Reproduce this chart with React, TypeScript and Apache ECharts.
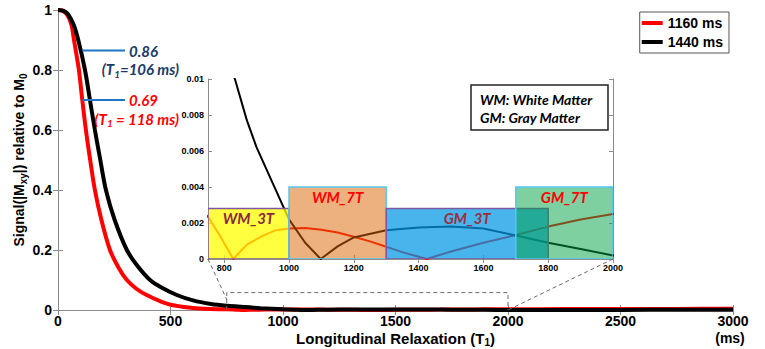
import { useEffect, useRef } from 'react';
import * as echarts from 'echarts';

// ---- data ----
const redT1 = [0, 20, 40, 60, 71, 80, 93, 108, 124, 143, 164, 193, 231, 270, 306, 350, 394, 480, 560, 650, 750, 790, 828, 870, 920, 960, 1000, 1050, 1100, 1150, 1200, 1250, 1300, 1350, 1425, 1500, 1600, 1700, 1800, 1900, 2000, 2250, 2500, 2750, 3000];
const redSignal = [1, 0.998, 0.985, 0.95, 0.9, 0.86, 0.8, 0.7, 0.6, 0.5, 0.4, 0.3, 0.2, 0.14, 0.1, 0.07, 0.05, 0.022, 0.01, 0.004, 0.00235, 0.0012, 0, 0.0008, 0.0013, 0.0016, 0.0017, 0.00172, 0.00163, 0.00147, 0.00124, 0.00098, 0.00068, 0.00038, 0, 0.00042, 0.0009, 0.00133, 0.0018, 0.0022, 0.0025, 0.003, 0.0034, 0.0037, 0.004];
const blackT1 = [0, 25, 45, 70, 90, 120, 142, 164, 188, 213, 252, 306, 350, 409, 460, 528, 600, 680, 750, 800, 833, 870, 900, 950, 1000, 1050, 1098, 1150, 1200, 1300, 1400, 1500, 1600, 1700, 1800, 1900, 2000, 2250, 2500, 2750, 3000];
const blackSignal = [1, 0.997, 0.985, 0.95, 0.9, 0.8, 0.7, 0.6, 0.5, 0.4, 0.3, 0.2, 0.15, 0.1, 0.075, 0.05, 0.032, 0.02, 0.014, 0.0115, 0.01, 0.0077, 0.0062, 0.0042, 0.0022, 0.0009, 0, 0.0007, 0.0012, 0.0016, 0.00175, 0.0018, 0.0017, 0.0013, 0.0009, 0.00055, 0.0002, 0.0001, 0.0004, 0.0008, 0.0012];

const seriesNames = ['1160 ms', '1440 ms'];
const insetXTicks = [800, 1000, 1200, 1400, 1600, 1800, 2000];

const regionNames = ['WM_3T', 'WM_7T', 'GM_3T', 'GM_7T'];
const regionStart = [750, 1000, 1300, 1700];
const regionEnd = [1000, 1300, 1800, 2000];
const regionTop = [0.0028, 0.004, 0.0028, 0.004];

const annoValues = ['0.86', '0.69'];
const annoT1 = ['106', '118'];
const annoSep = ['=', ' = '];
const annoY = [0.865, 0.7];

// ---- styles ----
const regionFill = ['rgba(255,255,0,0.75)', 'rgba(220,97,0,0.5)', 'rgba(0,153,228,0.72)', 'rgba(0,161,65,0.5)'];
const regionStroke = ['#7e57a0', '#55c8f2', '#7e57a0', '#55c8f2'];
const regionText = ['#8a2a3a', '#ff0000', '#9a3040', '#ff0000'];
const annoColor = ['#203864', '#ff0000'];
const AX = '#8c8c8c';
const FONT = '"Liberation Sans", Arial, sans-serif';
const IFONT = 'Lato, "Noto Sans", sans-serif';

const zip = (a: number[], b: number[]) => a.map((v, i) => [v, b[i]]);
const plain = (v: number) => String(v);

export default function App() {
  const ref = useRef<HTMLDivElement>(null);
  useEffect(() => {
    const chart = echarts.init(ref.current!, undefined, { renderer: 'svg' });
    const sub = { color: '#000', fontSize: 10, padding: [6, 0, 0, 0], verticalAlign: 'top', lineHeight: 10, fontWeight: 'bold', fontFamily: FONT };
    const nrm = { color: '#000', fontSize: 15, lineHeight: 16, verticalAlign: 'top', fontWeight: 'bold', fontFamily: FONT };
    const tickCommon = { inside: true, length: 5, lineStyle: { color: AX } };
    const option: any = {
      animation: false,
      grid: [
        { left: 58, top: 10, width: 675, height: 300, outerBoundsMode: 'none', containLabel: false },
        { left: 208, top: 79, width: 405, height: 180, show: true, backgroundColor: '#fff', borderWidth: 0, outerBoundsMode: 'none', containLabel: false },
      ],
      legend: {
        right: 36, top: 12, orient: 'vertical', itemWidth: 21, itemHeight: 4, itemGap: 5,
        borderColor: '#555', borderWidth: 1, backgroundColor: '#fff', padding: [4, 6, 4, 2],
        textStyle: { fontWeight: 'bold', fontSize: 14, fontFamily: FONT, color: '#000' },
        data: seriesNames.map((n) => ({ name: n, icon: 'rect' })),
      },
      xAxis: [
        {
          gridIndex: 0, type: 'value', min: 0, max: 3000, interval: 500,
          axisLine: { lineStyle: { color: AX } }, axisTick: tickCommon, splitLine: { show: false },
          axisLabel: { color: '#000', fontSize: 14, fontWeight: 'bold', fontFamily: FONT, margin: 4, formatter: plain },
          name: '{n|Longitudinal Relaxation (T}{s|1}{n|)}', nameLocation: 'middle', nameGap: 21, nameMoveOverlap: false,
          nameTextStyle: { rich: { n: nrm, s: sub } },
        },
        {
          gridIndex: 0, type: 'value', min: 0, max: 3000, interval: 500, position: 'top',
          axisLine: { lineStyle: { color: AX } }, axisTick: tickCommon, axisLabel: { show: false }, splitLine: { show: false },
        },
        {
          gridIndex: 1, type: 'value', min: 750, max: 2000,
          axisLine: { lineStyle: { color: AX } },
          axisTick: { ...tickCommon, length: 4, customValues: insetXTicks }, splitLine: { show: false },
          axisLabel: { customValues: insetXTicks, color: '#000', fontSize: 9, fontWeight: 'bold', fontFamily: FONT, margin: 4, formatter: plain },
        },
        {
          gridIndex: 1, type: 'value', min: 750, max: 2000, position: 'top',
          axisLine: { lineStyle: { color: AX } },
          axisTick: { ...tickCommon, length: 4, customValues: insetXTicks }, axisLabel: { show: false }, splitLine: { show: false },
        },
      ],
      yAxis: [
        {
          gridIndex: 0, type: 'value', min: 0, max: 1, interval: 0.2,
          axisLine: { show: true, lineStyle: { color: AX } }, axisTick: { ...tickCommon, show: true }, splitLine: { show: false },
          axisLabel: { color: '#000', fontSize: 14, fontWeight: 'bold', fontFamily: FONT, margin: 6 },
          name: '{n|Signal(|M}{s|xy}{n||) relative to M}{s|0}', nameLocation: 'middle', nameGap: 31, nameMoveOverlap: false,
          nameTextStyle: { rich: { n: { ...nrm, fontSize: 14, lineHeight: 15 }, s: sub } },
        },
        {
          gridIndex: 0, type: 'value', min: 0, max: 1, interval: 0.2, position: 'right',
          axisLine: { show: true, lineStyle: { color: AX } }, axisTick: { ...tickCommon, show: true }, axisLabel: { show: false }, splitLine: { show: false },
        },
        {
          gridIndex: 1, type: 'value', min: 0, max: 0.01, interval: 0.002,
          axisLine: { show: true, lineStyle: { color: AX } }, axisTick: { ...tickCommon, show: true, length: 4 }, splitLine: { show: false },
          axisLabel: { color: '#000', fontSize: 9, fontWeight: 'bold', fontFamily: FONT, margin: 4 },
        },
        {
          gridIndex: 1, type: 'value', min: 0, max: 0.01, interval: 0.002, position: 'right',
          axisLine: { show: true, lineStyle: { color: AX } }, axisTick: { ...tickCommon, show: true, length: 4 }, axisLabel: { show: false }, splitLine: { show: false },
        },
      ],
      series: [
        { name: seriesNames[0], type: 'line', xAxisIndex: 0, yAxisIndex: 0, data: zip(redT1, redSignal), showSymbol: false, smooth: 0.3, lineStyle: { color: '#ff0000', width: 4 }, itemStyle: { color: '#ff0000' }, z: 3 },
        { name: seriesNames[1], type: 'line', xAxisIndex: 0, yAxisIndex: 0, data: zip(blackT1, blackSignal), showSymbol: false, smooth: 0.3, lineStyle: { color: '#000', width: 4 }, itemStyle: { color: '#000' }, z: 3 },
        { name: seriesNames[0], type: 'line', xAxisIndex: 2, yAxisIndex: 2, data: zip(redT1, redSignal), showSymbol: false, clip: true, lineStyle: { color: '#ff0000', width: 2 }, itemStyle: { color: '#ff0000' }, z: 4 },
        { name: seriesNames[1], type: 'line', xAxisIndex: 2, yAxisIndex: 2, data: zip(blackT1, blackSignal), showSymbol: false, clip: true, lineStyle: { color: '#000', width: 2 }, itemStyle: { color: '#000' }, z: 4 },
        {
          type: 'custom', xAxisIndex: 2, yAxisIndex: 2, z: 6, clip: true,
          data: regionNames.map((_, i) => [regionStart[i], regionEnd[i], regionTop[i], i]),
          encode: { x: [0, 1], y: 2 },
          renderItem: (_p: any, api: any) => {
            const i = api.value(3);
            const a = api.coord([api.value(0), api.value(2)]);
            const b = api.coord([api.value(1), 0]);
            return {
              type: 'group',
              children: [
                { type: 'rect', shape: { x: a[0], y: a[1], width: b[0] - a[0], height: b[1] - a[1] }, style: { fill: regionFill[i], stroke: regionStroke[i], lineWidth: 1.5 } },
                { type: 'text', style: { text: regionNames[i], x: (a[0] + b[0]) / 2, y: a[1] + 2, align: 'center', verticalAlign: 'top', fill: regionText[i], font: `italic bold 15px ${IFONT}` } },
              ],
            };
          },
        },
      ],
    };
    chart.setOption(option);

    const p0 = (v: number[]) => chart.convertToPixel({ gridIndex: 0 }, v) as number[];
    const p1 = (v: number[]) => chart.convertToPixel({ gridIndex: 1 }, v) as number[];
    const dash = { stroke: '#6a6a6a', lineWidth: 1, lineDash: [4, 3], fill: 'none' };
    const zx0 = 750, zx1 = 2000, zTop = 0.058;
    const graphics: any[] = [
      { type: 'polyline', z: 10, shape: { points: [p0([zx0, 0]), p0([zx0, zTop]), p0([zx1, zTop]), p0([zx1, 0])] }, style: dash },
      { type: 'line', z: 10, shape: { x1: p1([zx0, 0])[0], y1: p1([zx0, 0])[1], x2: p0([zx0, 0.035])[0], y2: p0([zx0, 0.035])[1] }, style: dash },
      { type: 'line', z: 10, shape: { x1: p1([zx1, 0])[0], y1: p1([zx1, 0])[1], x2: p0([zx1, 0])[0], y2: p0([zx1, 0])[1] }, style: dash },
    ];
    annoValues.forEach((v, i) => {
      const a = p0([108, annoY[i]]);
      const b = p0([298, annoY[i]]);
      graphics.push({ type: 'line', z: 10, shape: { x1: a[0], y1: a[1], x2: b[0], y2: b[1] }, style: { stroke: '#1f74c4', lineWidth: 2 } });
      graphics.push({ type: 'text', z: 10, style: { text: v, x: b[0] + 4, y: b[1], verticalAlign: 'middle', fill: annoColor[i], font: `italic bold 15px ${IFONT}` } });
      graphics.push({
        type: 'text', z: 10,
        style: {
          text: `{n|(T}{s|1}{n|${annoSep[i]}${annoT1[i]} ms)}`, x: b[0] + 54, y: b[1] + 11, align: 'right', verticalAlign: 'top',
          rich: {
            n: { fill: annoColor[i], fontSize: 15, fontStyle: 'italic', fontWeight: 'bold', fontFamily: IFONT, lineHeight: 15, verticalAlign: 'top' },
            s: { fill: annoColor[i], fontSize: 10, fontStyle: 'italic', fontWeight: 'bold', fontFamily: IFONT, lineHeight: 10, padding: [7, 0, 0, 0], verticalAlign: 'top' },
          },
        },
      });
    });
    const ir = p1([2000, 0.01]);
    graphics.push({ type: 'rect', z: 10, shape: { x: ir[0] - 142, y: ir[1] + 6, width: 137, height: 45 }, style: { fill: '#fff', stroke: '#222', lineWidth: 1.5 } });
    graphics.push({
      type: 'text', z: 11,
      style: { text: 'WM: White Matter\nGM: Gray Matter', x: ir[0] - 133, y: ir[1] + 11, lineHeight: 18, fill: '#000', font: `italic bold 14px ${IFONT}` },
    });
    const last = p0([3000, 0]);
    graphics.push({ type: 'text', z: 10, style: { text: '(ms)', x: last[0] - 3, y: last[1] + 21, align: 'center', verticalAlign: 'top', fill: '#000', font: `bold 14px ${FONT}` } });
    chart.setOption({ graphic: graphics });
    return () => chart.dispose();
  }, []);
  return <div ref={ref} style={{ position: 'fixed', left: 0, top: 0, width: 765, height: 349, background: '#fff' }} />;
}
